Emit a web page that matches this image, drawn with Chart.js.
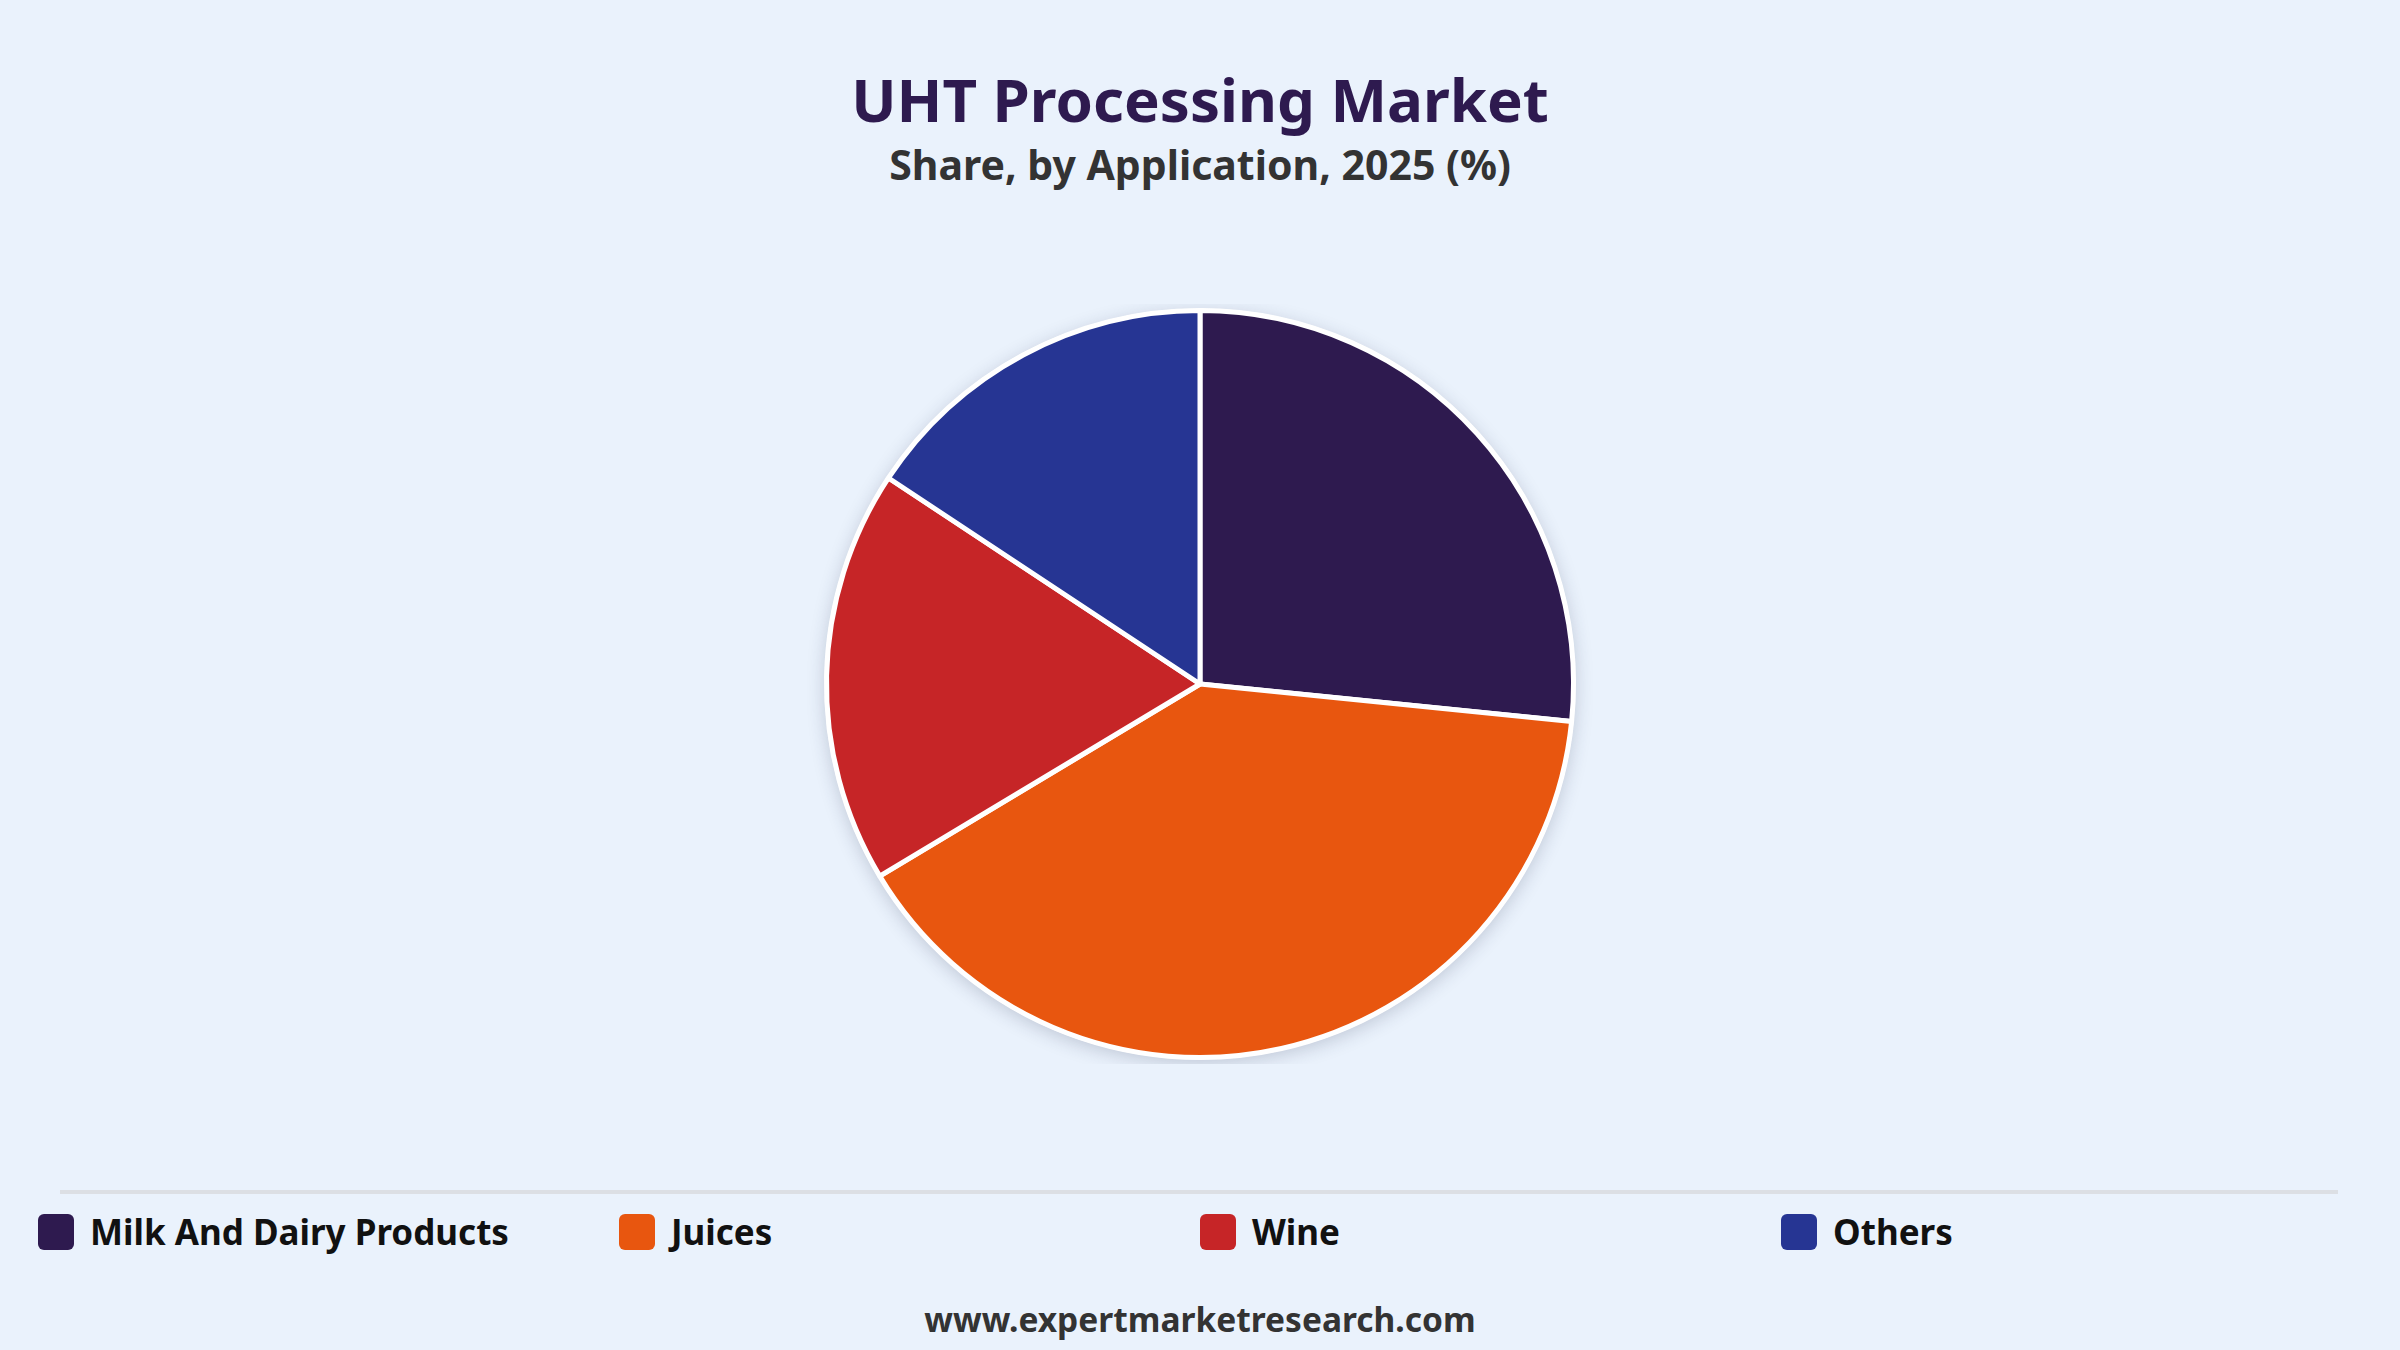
<!DOCTYPE html>
<html>
<head>
<meta charset="utf-8">
<script src="https://cdn.jsdelivr.net/npm/chart.js@4.4.1/dist/chart.umd.min.js"></script>
<style>
  html, body { margin:0; padding:0; }
  body { width:2400px; height:1350px; background:#EAF2FC; position:relative; overflow:hidden; font-family:"Noto Sans", sans-serif; }
  #title { position:absolute; top:60px; left:0; width:2400px; text-align:center; font-weight:700; font-size:60px; line-height:78px; color:#2E1A4F; }
  #subtitle { position:absolute; top:137px; left:0; width:2400px; text-align:center; font-weight:700; font-size:41px; line-height:54px; color:#333333; }
  #chartWrap { position:absolute; top:304px; left:0; width:2400px; height:760px; }
  #sep { position:absolute; top:1190px; left:60px; width:2278px; height:4px; background:#DCDFE4; }
  #legend { position:absolute; top:1208px; left:38px; width:2324px; display:flex; }
  .item { width:581px; display:flex; align-items:center; font-weight:700; font-size:35px; color:#111; }
  .box { width:36px; height:36px; border-radius:6px; margin-right:16px; flex:none; }
  #footer { position:absolute; top:1296px; left:0; width:2400px; text-align:center; font-weight:700; font-size:33.5px; line-height:46px; color:#333333; }
</style>
</head>
<body>
<div id="title">UHT Processing Market</div>
<div id="subtitle">Share, by Application, 2025 (%)</div>
<div id="chartWrap"><canvas id="c"></canvas></div>
<div id="sep"></div>
<div id="legend"></div>
<div id="footer">www.expertmarketresearch.com</div>
<script>
const categories = ["Milk And Dairy Products", "Juices", "Wine", "Others"];
const shares = [26.6, 39.8, 17.9, 15.7];
const colors = ["#2E1A4F", "#E8560F", "#C62527", "#263593"];

const legend = document.getElementById('legend');
categories.forEach((c, i) => {
  const d = document.createElement('div');
  d.className = 'item';
  d.innerHTML = '<span class="box" style="background:' + colors[i] + '"></span><span>' + c + '</span>';
  legend.appendChild(d);
});

const shadowPlugin = {
  id: 'pieShadow',
  beforeDatasetsDraw(chart) {
    const arc = chart.getDatasetMeta(0).data[0];
    if (!arc) return;
    const ctx = chart.ctx;
    ctx.save();
    ctx.shadowColor = 'rgba(40,50,80,0.22)';
    ctx.shadowBlur = 18;
    ctx.shadowOffsetY = 4;
    ctx.fillStyle = '#ffffff';
    ctx.beginPath();
    ctx.arc(arc.x, arc.y, arc.outerRadius + 2, 0, Math.PI * 2);
    ctx.fill();
    ctx.restore();
  }
};

new Chart(document.getElementById('c'), {
  type: 'pie',
  data: {
    labels: categories,
    datasets: [{
      data: shares,
      backgroundColor: colors,
      borderColor: '#ffffff',
      borderWidth: 5,
      hoverOffset: 0
    }]
  },
  options: {
    responsive: true,
    maintainAspectRatio: false,
    animation: false,
    layout: { padding: 4 },
    plugins: {
      legend: { display: false },
      tooltip: { enabled: false },
      title: { display: false }
    }
  },
  plugins: [shadowPlugin]
});
</script>
</body>
</html>
